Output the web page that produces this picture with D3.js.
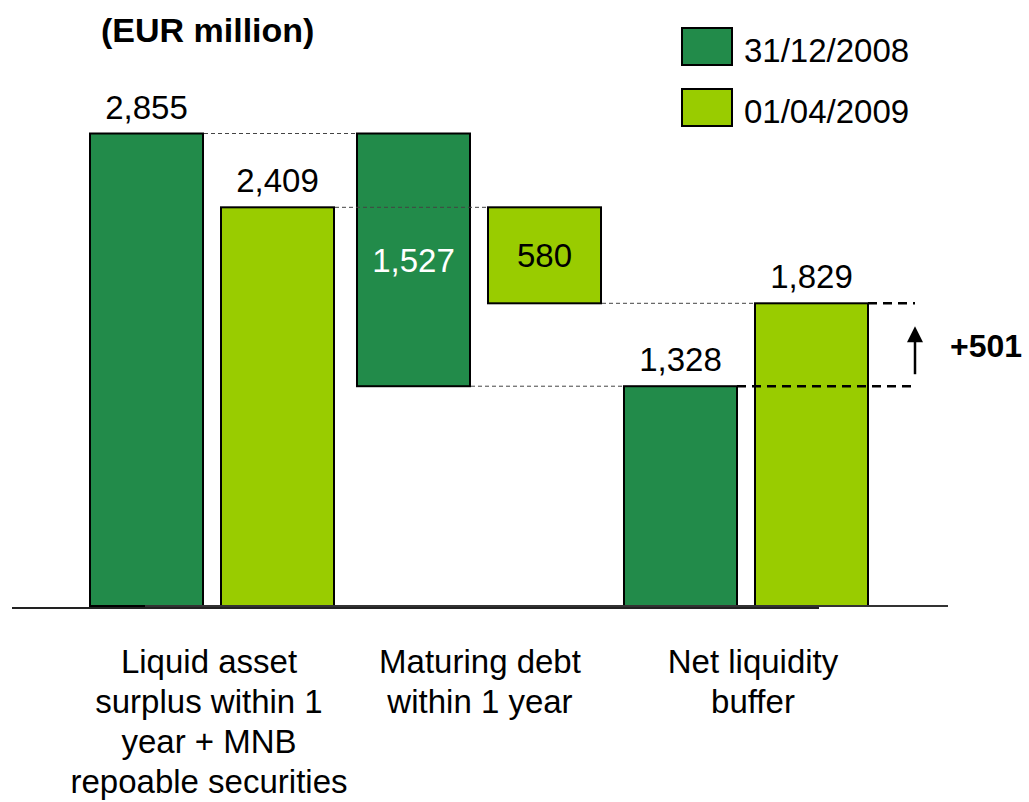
<!DOCTYPE html>
<html>
<head>
<meta charset="utf-8">
<script src="https://cdn.jsdelivr.net/npm/d3@7"></script>
<style>
  html, body { margin: 0; padding: 0; background: #fff; }
  svg { display: block; }
  text { font-family: "Liberation Sans", Arial, sans-serif; fill: #000; }
</style>
</head>
<body>
<svg id="chart" width="1029" height="802"></svg>
<script>
// ---- data ----
const categories = [
  ["Liquid asset", "surplus within 1", "year + MNB", "repoable securities"],
  ["Maturing debt", "within 1 year"],
  ["Net liquidity", "buffer"]
];
const categoryKeys = ["liquid", "debt", "buffer"];
const seriesNames = ["31/12/2008", "01/04/2009"];
const values2008 = [2855, 1527, 1328];
const values2009 = [2409, 580, 1829];
const valueLabels2008 = ["2,855", "1,527", "1,328"];
const valueLabels2009 = ["2,409", "580", "1,829"];
const changeLabel = "+501";
const title = "(EUR million)";

// ---- styles ----
const colors = ["#228B4A", "#99CC00"];
const svg = d3.select("#chart");

// ---- scales ----
const y = d3.scaleLinear().domain([0, 2855]).range([606, 133.5]);
const x0 = d3.scaleBand().domain(categoryKeys).range([90, 868]).paddingInner(0.0861).paddingOuter(0);
const x1 = d3.scaleBand().domain(seriesNames).range([0, x0.bandwidth()]).paddingInner(0.1374).paddingOuter(0);

// build bar records (waterfall: middle category floats)
const seriesValues = [values2008, values2009];
const seriesLabels = [valueLabels2008, valueLabels2009];
const bars = [];
seriesNames.forEach((s, si) => {
  const vals = seriesValues[si];
  categoryKeys.forEach((c, ci) => {
    let lo, hi;
    if (ci === 1) { hi = vals[0]; lo = vals[0] - vals[1]; }
    else { lo = 0; hi = vals[ci]; }
    bars.push({ s, si, c, ci, lo, hi, label: seriesLabels[si][ci] });
  });
});
const barX = d => x0(d.c) + x1(d.s);
const barR = d => barX(d) + x1.bandwidth();
const find = (si, ci) => bars.find(b => b.si === si && b.ci === ci);

// ---- bars ----
svg.append("g").selectAll("rect").data(bars).join("rect")
  .attr("x", barX)
  .attr("y", d => y(d.hi))
  .attr("width", x1.bandwidth())
  .attr("height", d => y(d.lo) - y(d.hi))
  .attr("fill", d => colors[d.si])
  .attr("stroke", "#000")
  .attr("stroke-width", 2);

// ---- thin connector dashed lines ----
const connectors = [
  { from: find(0, 0), to: find(0, 1), v: values2008[0] },
  { from: find(1, 0), to: find(1, 1), v: values2009[0] },
  { from: find(0, 1), to: find(0, 2), v: values2008[2] },
  { from: find(1, 1), to: find(1, 2), v: values2009[2] }
];
svg.append("g").selectAll("line").data(connectors).join("line")
  .attr("x1", d => barR(d.from) + 1)
  .attr("x2", d => barX(d.to) - 1)
  .attr("y1", d => y(d.v))
  .attr("y2", d => y(d.v))
  .attr("stroke", "#444")
  .attr("stroke-width", 1)
  .attr("stroke-dasharray", "4,3");

// ---- baseline lines ----
const base = y(0);
svg.append("line").attr("x1", 12).attr("x2", 819).attr("y1", base + 2).attr("y2", base + 2)
  .attr("stroke", "#222").attr("stroke-width", 2);
svg.append("line").attr("x1", 145).attr("x2", 948).attr("y1", base).attr("y2", base)
  .attr("stroke", "#333").attr("stroke-width", 2);

// ---- value labels ----
svg.append("g").selectAll("text").data(bars).join("text")
  .attr("x", d => barX(d) + x1.bandwidth() / 2)
  .attr("y", d => d.ci === 1 ? (y(d.lo) + y(d.hi)) / 2 : y(d.hi) - 15)
  .attr("dy", d => d.ci === 1 ? "0.36em" : 0)
  .attr("text-anchor", "middle")
  .style("font-size", "33px")
  .style("fill", d => (d.ci === 1 && d.si === 0) ? "#fff" : "#000")
  .text(d => d.label);

// ---- change indicator ----
const b5 = find(0, 2), b6 = find(1, 2);
const xEnd = 915;
svg.append("line").attr("x1", barR(b6)).attr("x2", xEnd)
  .attr("y1", y(values2009[2])).attr("y2", y(values2009[2]))
  .attr("stroke", "#000").attr("stroke-width", 2.5).attr("stroke-dasharray", "9,6");
svg.append("line").attr("x1", barR(b5)).attr("x2", xEnd)
  .attr("y1", y(values2008[2])).attr("y2", y(values2008[2]))
  .attr("stroke", "#000").attr("stroke-width", 2.5).attr("stroke-dasharray", "9,6");
const aBottom = y(values2008[2]) - 12, aTop = y(values2009[2]) + 23;
svg.append("line").attr("x1", xEnd).attr("x2", xEnd).attr("y1", aBottom).attr("y2", aTop + 14)
  .attr("stroke", "#000").attr("stroke-width", 2.5);
svg.append("path")
  .attr("d", `M${xEnd},${aTop} L${xEnd - 8},${aTop + 16} L${xEnd + 8},${aTop + 16} Z`)
  .attr("fill", "#000");
svg.append("text").attr("x", 950).attr("y", (y(values2008[2]) + y(values2009[2])) / 2 + 12)
  .style("font-size", "32px").style("font-weight", "bold").text(changeLabel);

// ---- category labels ----
const catG = svg.append("g");
const catCenters = [209, 480, 753];
categories.forEach((lines, i) => {
  const t = catG.append("text")
    .attr("text-anchor", "middle")
    .style("font-size", "33px");
  lines.forEach((ln, j) => {
    t.append("tspan").attr("x", catCenters[i]).attr("y", 673 + j * 40).text(ln);
  });
});

// ---- title ----
svg.append("text").attr("x", 101).attr("y", 42)
  .style("font-size", "34px").style("font-weight", "bold").text(title);

// ---- legend ----
const legend = svg.append("g").selectAll("g").data(seriesNames).join("g")
  .attr("transform", (d, i) => `translate(682, ${28 + i * 61})`);
legend.append("rect").attr("width", 50).attr("height", 37)
  .attr("fill", (d, i) => colors[i]).attr("stroke", "#000").attr("stroke-width", 2);
legend.append("text").attr("x", 62).attr("y", 34)
  .style("font-size", "33px").text(d => d);
</script>
</body>
</html>
